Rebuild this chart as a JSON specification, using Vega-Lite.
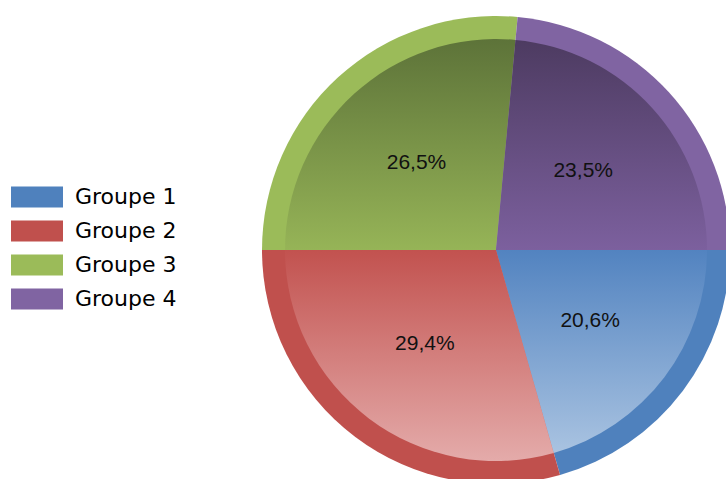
{
  "$schema": "https://vega.github.io/schema/vega-lite/v6.json",
  "width": 468,
  "height": 468,
  "autosize": {"type": "none"},
  "padding": {"left": 262, "top": 16, "right": 0, "bottom": 0},
  "background": "white",
  "config": {"view": {"stroke": null}},
  "data": {
    "values": [
      {"idx": 1, "group": "Groupe 1", "value": 7, "label": "20,6%"},
      {"idx": 2, "group": "Groupe 2", "value": 10, "label": "29,4%"},
      {"idx": 3, "group": "Groupe 3", "value": 9, "label": "26,5%"},
      {"idx": 4, "group": "Groupe 4", "value": 8, "label": "23,5%"}
    ]
  },
  "transform": [
    {"stack": "value", "groupby": [], "sort": [{"field": "idx"}], "as": ["v0", "v1"]}
  ],
  "layer": [
    {
      "mark": {"type": "arc", "outerRadius": 234, "strokeWidth": 0},
      "encoding": {
        "theta": {"field": "v0", "type": "quantitative", "scale": {"domain": [0, 34], "range": [1.5708, 7.854]}},
        "theta2": {"field": "v1"},
        "color": {
          "field": "group",
          "type": "nominal",
          "scale": {"domain": ["Groupe 1", "Groupe 2", "Groupe 3", "Groupe 4"], "range": ["#4f81bd", "#c0504d", "#9bbb59", "#8064a2"]},
          "legend": {
            "title": null,
            "orient": "none",
            "legendX": -238,
            "legendY": 168,
            "symbolType": "M-2,-0.8H2V0.8H-2Z",
            "symbolSize": 676,
            "symbolStrokeWidth": 0,
            "labelOffset": 25,
            "labelFont": "DejaVu Sans",
            "labelFontSize": 22,
            "labelColor": "#000000",
            "rowPadding": 10
          }
        }
      }
    },
    {
      "transform": [{"filter": "datum.idx == 1"}],
      "mark": {"type": "arc", "outerRadius": 211, "strokeWidth": 0,
        "fill": {"gradient": "linear", "x1": 0, "y1": 0, "x2": 0, "y2": 1, "stops": [{"offset": 0, "color": "#5283c0"}, {"offset": 1, "color": "#a9c3e1"}]}},
      "encoding": {"theta": {"field": "v0", "type": "quantitative"}, "theta2": {"field": "v1"}}
    },
    {
      "transform": [{"filter": "datum.idx == 2"}],
      "mark": {"type": "arc", "outerRadius": 211, "strokeWidth": 0,
        "fill": {"gradient": "linear", "x1": 0, "y1": 0, "x2": 0, "y2": 1, "stops": [{"offset": 0, "color": "#c2524f"}, {"offset": 1, "color": "#e4abaa"}]}},
      "encoding": {"theta": {"field": "v0", "type": "quantitative"}, "theta2": {"field": "v1"}}
    },
    {
      "transform": [{"filter": "datum.idx == 3"}],
      "mark": {"type": "arc", "outerRadius": 211, "strokeWidth": 0,
        "fill": {"gradient": "linear", "x1": 0, "y1": 0, "x2": 0, "y2": 1, "stops": [{"offset": 0, "color": "#5d7339"}, {"offset": 1, "color": "#96b457"}]}},
      "encoding": {"theta": {"field": "v0", "type": "quantitative"}, "theta2": {"field": "v1"}}
    },
    {
      "transform": [{"filter": "datum.idx == 4"}],
      "mark": {"type": "arc", "outerRadius": 211, "strokeWidth": 0,
        "fill": {"gradient": "linear", "x1": 0, "y1": 0, "x2": 0, "y2": 1, "stops": [{"offset": 0, "color": "#4d3b61"}, {"offset": 1, "color": "#7c609e"}]}},
      "encoding": {"theta": {"field": "v0", "type": "quantitative"}, "theta2": {"field": "v1"}}
    },
    {
      "mark": {"type": "text", "radius": 118, "font": "Liberation Sans", "fontSize": 21, "color": "#111111"},
      "encoding": {
        "theta": {"field": "value", "type": "quantitative", "stack": true},
        "order": {"field": "idx", "type": "quantitative"},
        "text": {"field": "label", "type": "nominal"}
      }
    }
  ]
}
